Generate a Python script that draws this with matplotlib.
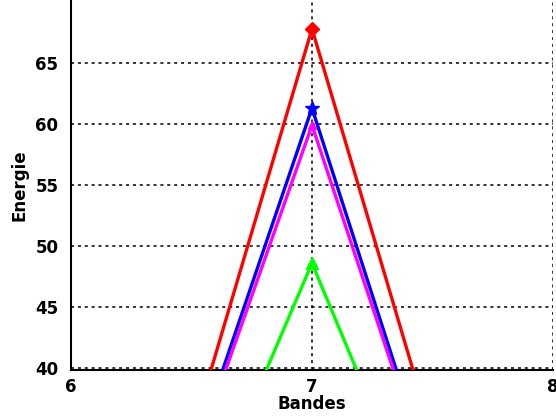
import matplotlib
matplotlib.use('Agg')
import matplotlib.pyplot as plt

# band index vs energy
bandes = [6, 7, 8]
energie_rouge = [1.1, 67.8, 1.1]
energie_bleu = [3.4, 61.3, 0.0]
energie_magenta = [3.9, 59.9, 0.5]
energie_vert = [2.4, 48.6, 1.3]

plt.rcParams['font.family'] = ['DejaVu Sans']

fig = plt.figure(figsize=(5.56, 4.18), dpi=100)
ax = fig.add_axes([71 / 556, 48 / 418, 482 / 556, 370 / 418])

ax.plot(bandes, energie_rouge, '-', color='#ff0000', lw=2.4,
        marker='D', markevery=[1], ms=7, zorder=3)
ax.plot(bandes, energie_bleu, '-', color='#0000ff', lw=2.4,
        marker='*', markevery=[1], ms=10, zorder=3)
ax.plot(bandes, energie_magenta, '-', color='#ff00ff', lw=2.4,
        marker='^', markevery=[1], ms=6, zorder=4)
ax.plot(bandes, energie_vert, '-', color='#00ff00', lw=2.4,
        marker='^', markevery=[1], ms=8, zorder=3)

ax.set_xlim(6, 8)
ax.set_ylim(39.84, 70.16)
ax.set_xticks([6, 7, 8])
ax.set_yticks([40, 45, 50, 55, 60, 65])
ax.grid(True, color='black', linestyle=(0, (2, 2.5)), linewidth=1.1)
ax.set_axisbelow(True)

for s in ('top', 'right'):
    ax.spines[s].set_visible(False)
for s in ('left', 'bottom'):
    ax.spines[s].set_linewidth(1.5)

ax.tick_params(length=0, labelsize=12)
ax.tick_params(axis='y', pad=9)
ax.tick_params(axis='x', pad=6)
for lab in ax.get_xticklabels() + ax.get_yticklabels():
    lab.set_fontweight('bold')
ax.set_xlabel('Bandes', fontsize=12, fontweight='bold', labelpad=-1)
ax.set_ylabel('Energie', fontsize=12, fontweight='bold', labelpad=5)

fig.savefig('out.png', dpi=100)
